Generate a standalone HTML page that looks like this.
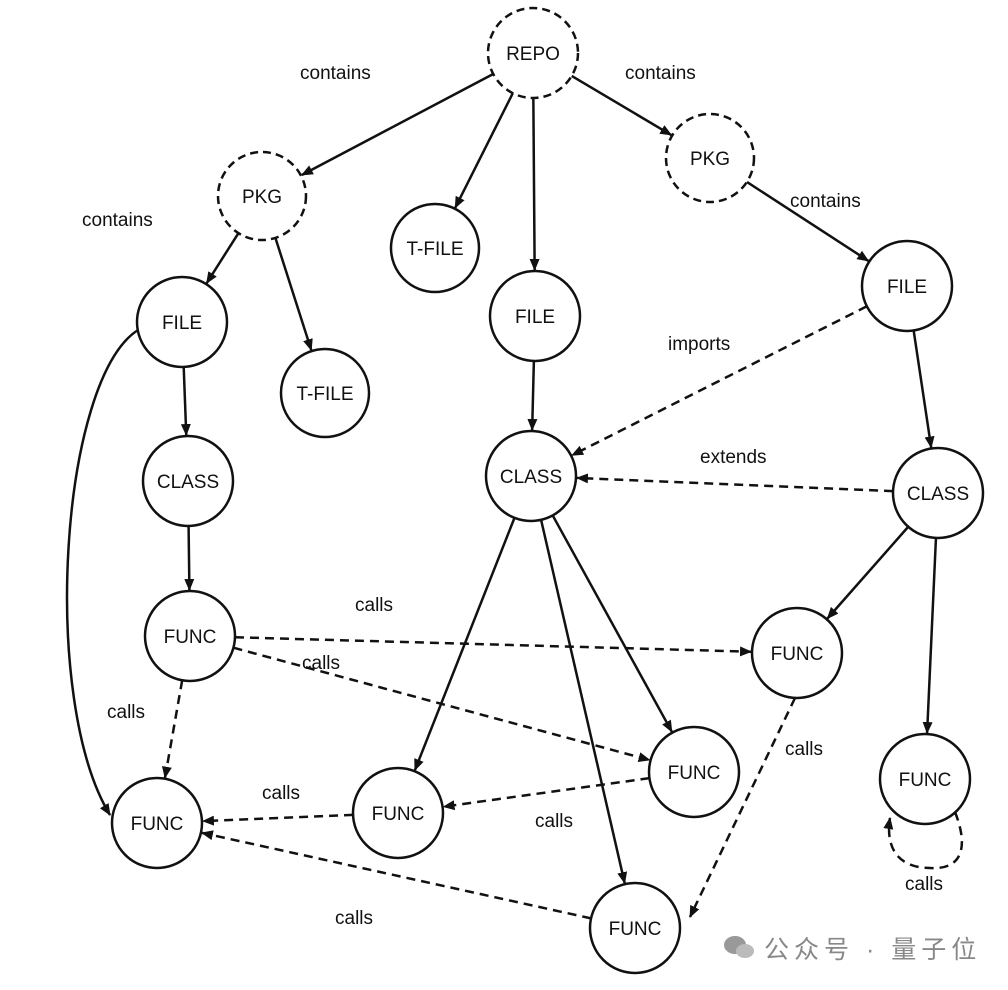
<!DOCTYPE html>
<html><head><meta charset="utf-8">
<style>
html,body{margin:0;padding:0;background:#fff;}
svg{display:block;}
text{font-family:"Liberation Sans","Noto Sans CJK SC",sans-serif;}
</style></head>
<body>
<svg id="s" width="1008" height="990" viewBox="0 0 1008 990" xmlns="http://www.w3.org/2000/svg">
<defs>
<marker id="a" markerWidth="12" markerHeight="10" refX="11" refY="5" orient="auto" markerUnits="userSpaceOnUse">
<path d="M0,0 L12,5 L0,10 Z" fill="#111"/>
</marker>
</defs>
<g id="g"></g>
<g font-size="19" fill="#111">
<text x="300" y="79">contains</text>
<text x="625" y="79">contains</text>
<text x="82" y="226">contains</text>
<text x="790" y="207">contains</text>
<text x="668" y="350">imports</text>
<text x="700" y="463">extends</text>
<text x="355" y="611">calls</text>
<text x="302" y="669">calls</text>
<text x="107" y="718">calls</text>
<text x="785" y="755">calls</text>
<text x="262" y="799">calls</text>
<text x="535" y="827">calls</text>
<text x="335" y="924">calls</text>
<text x="905" y="890">calls</text>
</g>
<text x="764" y="958" font-size="25" fill="#888" letter-spacing="5">公众号 · 量子位</text>
<g transform="translate(735,947)" fill="#999"><ellipse cx="0" cy="-2" rx="11" ry="9"/><ellipse cx="10" cy="4" rx="9" ry="7" fill="#bbb"/></g>
</svg>
<script>
var N={
REPO:[533,53,45,1,"REPO"],PL:[262,196,44,1,"PKG"],PR:[710,158,44,1,"PKG"],
TF1:[435,248,44,0,"T-FILE"],FM:[535,316,45,0,"FILE"],FL:[182,322,45,0,"FILE"],
TF2:[325,393,44,0,"T-FILE"],FR:[907,286,45,0,"FILE"],CL:[188,481,45,0,"CLASS"],
CM:[531,476,45,0,"CLASS"],CR:[938,493,45,0,"CLASS"],F1:[190,636,45,0,"FUNC"],
F2:[797,653,45,0,"FUNC"],F3:[694,772,45,0,"FUNC"],F4:[925,779,45,0,"FUNC"],
F5:[157,823,45,0,"FUNC"],F6:[398,813,45,0,"FUNC"],F7:[635,928,45,0,"FUNC"]};
var E=[["REPO","PL",0],["REPO","TF1",0],["REPO","FM",0],["REPO","PR",0],["PL","FL",0],["PL","TF2",0],
["PR","FR",0],["FL","CL",0],["CL","F1",0],["FM","CM",0],["FR","CM",1],["CR","CM",1],["FR","CR",0],
["CR","F2",0],["CR","F4",0],["CM","F6",0],["CM","F3",0],["CM","F7",0],["F1","F2",1],["F1","F3",1],
["F1","F5",1],["F3","F6",1],["F6","F5",1],["F7","F5",1]];
var g=document.getElementById("g"),h="";
E.forEach(function(e){var a=N[e[0]],b=N[e[1]];var dx=b[0]-a[0],dy=b[1]-a[1],d=Math.hypot(dx,dy);
var x1=a[0]+dx/d*a[2],y1=a[1]+dy/d*a[2],x2=b[0]-dx/d*(b[2]+1),y2=b[1]-dy/d*(b[2]+1);
h+='<line x1="'+x1+'" y1="'+y1+'" x2="'+x2+'" y2="'+y2+'" stroke="#111" stroke-width="2.5"'+(e[2]?' stroke-dasharray="9,6"':'')+' marker-end="url(#a)"/>';});
h+='<line x1="795" y1="698" x2="690" y2="917" stroke="#111" stroke-width="2.5" stroke-dasharray="9,6" marker-end="url(#a)"/>';
h+='<path d="M138,330 C60,380 40,700 110,815" fill="none" stroke="#111" stroke-width="2.5" marker-end="url(#a)"/>';
h+='<path d="M955,812 C970,850 960,870 930,868 C900,868 885,850 890,818" fill="none" stroke="#111" stroke-width="2.5" stroke-dasharray="9,6" marker-end="url(#a)"/>';
for(var k in N){var n=N[k];h+='<circle cx="'+n[0]+'" cy="'+n[1]+'" r="'+n[2]+'" fill="#fff" stroke="#111" stroke-width="2.5"'+(n[3]?' stroke-dasharray="8,5"':'')+'/>';
h+='<text x="'+n[0]+'" y="'+(n[1]+7)+'" text-anchor="middle" font-size="19" fill="#111">'+n[4]+'</text>';}
g.innerHTML=h;
</script>
</body></html>
